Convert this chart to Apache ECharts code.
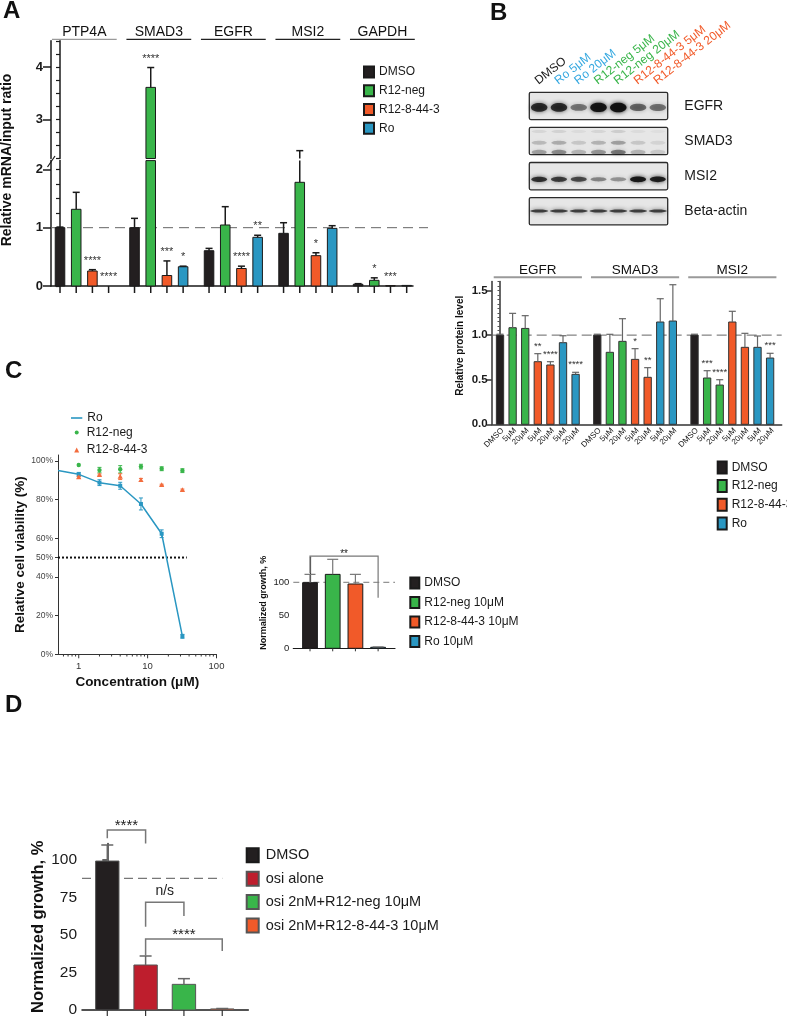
<!DOCTYPE html>
<html>
<head>
<meta charset="utf-8">
<script src="https://cdn.jsdelivr.net/npm/echarts@6.0.0/dist/echarts.min.js"></script>
<style>
html,body{margin:0;padding:0;background:#ffffff;}
#chart{width:787px;height:1018px;}
</style>
</head>
<body>
<div id="chart"></div>
<script>
// ======================= DATA =======================
// Panel A : relative mRNA / input ratio
const aGenes    = ['PTP4A', 'SMAD3', 'EGFR', 'MSI2', 'GAPDH'];
const aDmso     = [1.00, 1.00, 0.605, 0.903, 0.030];
const aDmsoErr  = [1.01, 1.16, 0.645, 1.085, 0.040];
const aNeg      = [1.315, 3.61, 1.046, 1.778, 0.097];
const aNegErr   = [1.606, 3.99, 1.360, 2.400, 0.140];
const aOr       = [0.257, 0.180, 0.300, 0.520, 0.006];
const aOrErr    = [0.280, 0.430, 0.340, 0.570, 0.006];
const aRo       = [0.000, 0.330, 0.835, 0.988, 0.010];
const aRoErr    = [0.000, 0.340, 0.870, 1.034, 0.010];
const aDmsoSig  = ['', '', '', '', ''];
const aNegSig   = ['', '****', '', '', '*'];
const aOrSig    = ['****', '***', '****', '*', '***'];
const aRoSig    = ['****', '*', '**', '', ''];
const aLowLabels = [0, 1, 2];
const aUpLabels  = [3, 4];

// Panel B : western blot (band intensity, 0..1)
const blotLanes     = ['DMSO', 'Ro 5μM', 'Ro 20μM', 'R12-neg 5μM', 'R12-neg 20μM', 'R12-8-44-3 5μM', 'R12-8-44-3 20μM'];
const blotLaneGroup = ['DMSO', 'Ro', 'Ro', 'R12-neg', 'R12-neg', 'R12-8-44-3', 'R12-8-44-3'];
const blotRows      = ['EGFR', 'SMAD3', 'MSI2', 'Beta-actin'];
const bandEGFR  = [0.82, 0.82, 0.48, 0.97, 1.00, 0.55, 0.50];
const bandSMAD3 = [0.35, 0.45, 0.25, 0.40, 0.55, 0.25, 0.15];
const bandMSI2  = [0.80, 0.74, 0.68, 0.42, 0.36, 0.94, 0.90];
const bandActin = [0.82, 0.82, 0.82, 0.82, 0.82, 0.82, 0.82];

// Panel B : relative protein level
const bTargets    = ['EGFR', 'SMAD3', 'MSI2'];
const bLaneLabels = ['DMSO', '5μM', '20μM', '5μM', '20μM', '5μM', '20μM'];
const bDmso   = [1.000, 1.000, 1.000]; const bDmsoErr  = [1.010, 1.010, 1.010]; const bDmsoSig  = ['', '', ''];
const bNeg5   = [1.083, 0.807, 0.519]; const bNeg5Err  = [1.244, 1.009, 0.601]; const bNeg5Sig  = ['', '', '***'];
const bNeg20  = [1.075, 0.930, 0.440]; const bNeg20Err = [1.218, 1.184, 0.500]; const bNeg20Sig = ['', '', '****'];
const bOr5    = [0.702, 0.728, 1.147]; const bOr5Err   = [0.792, 0.848, 1.267]; const bOr5Sig   = ['**', '*', ''];
const bOr20   = [0.665, 0.527, 0.863]; const bOr20Err  = [0.702, 0.635, 1.020]; const bOr20Sig  = ['****', '**', ''];
const bRo5    = [0.915, 1.147, 0.863]; const bRo5Err   = [0.993, 1.408, 0.990]; const bRo5Sig   = ['', '', ''];
const bRo20   = [0.560, 1.158, 0.743]; const bRo20Err  = [0.583, 1.565, 0.796]; const bRo20Sig  = ['****', '', '***'];
const bYLabels = [0, 0.5, 1.0, 1.5];

// Panel C : dose response (relative cell viability, %)
const doseConc  = [1, 2, 4, 8, 16, 32];
const roMean    = [93.0, 88.7, 87.1, 77.7, 62.3, 9.3];
const roSd      = [1.0, 1.5, 1.8, 3.1, 2.0, 1.0];
const roCurveX  = [0.5, 1, 2, 4, 8, 16, 32];
const roCurveY  = [95.0, 93.0, 88.7, 87.1, 77.7, 62.3, 9.3];
const negMean   = [97.8, 95.2, 95.6, 97.0, 95.9, 94.9];
const negSd     = [0.3, 1.4, 1.9, 1.2, 1.0, 1.0];
const orMean    = [91.5, 92.7, 91.8, 90.1, 87.5, 84.9];
const orSd      = [0.5, 0.5, 1.5, 0.8, 0.4, 0.5];
const doseYLabels = [0, 20, 40, 50, 60, 80, 100];
const doseMajor = [1, 10, 100];
const doseMinor = [0.6, 0.7, 0.8, 0.9, 2, 3, 4, 5, 6, 7, 8, 9, 20, 30, 40, 50, 60, 70, 80, 90];
const ic50Line  = [0.5, 50, 37];   // x from, y level, x to

// Panel C : normalized growth
const grNames  = ['DMSO', 'R12-neg 10μM', 'R12-8-44-3 10μM', 'Ro 10μM'];
const grMean   = [99.4, 112.0, 97.4, 1.5];
const grErr    = [112.0, 134.8, 112.0, 2.2];
const grYLabels = [0, 50, 100];
const grBrFrom = [0]; const grBrTo = [3]; const grBrLevel = [139.5]; const grBrLeftEnd = [114]; const grBrRightEnd = [76.5]; const grBrText = ['**'];

// Panel D : normalized growth with osimertinib
const dNames   = ['DMSO', 'osi alone', 'osi 2nM+R12-neg 10μM', 'osi 2nM+R12-8-44-3 10μM'];
const dMean    = [99.3, 30.0, 17.1, 0.7];
const dErr     = [110.0, 36.0, 20.9, 1.0];
const dRefLine = 87.8;
const dYLabels = [0, 25, 50, 75, 100];
const dBrFrom  = [0, 1, 1];
const dBrTo    = [1, 2, 3];
const dBrLevel = [120, 71.8, 47.3];
const dBrLeftEnd  = [114.5, 55.5, 36.2];
const dBrRightEnd = [111, 62.7, 39.3];
const dBrText  = ['****', 'n/s', '****'];

// ======================= STYLE / LAYOUT =======================
const FONT = "'Liberation Sans', Arial, Helvetica, sans-serif";
const COL = { 'DMSO': '#231f20', 'R12-neg': '#39b54a', 'R12-8-44-3': '#f15a29', 'Ro': '#2a97c2', 'osi': '#be1e2d' };
const LANE_TXT = { 'DMSO': '#1a1a1a', 'Ro': '#35a8e0', 'R12-neg': '#39b54a', 'R12-8-44-3': '#f15a29' };
const A_G = 4.6;    // group period (slots) panel A
const B_G = 7.72;   // group period (slots) panel B

function steps(a, b, s) { const r = []; for (let v = a; v <= b + 1e-9; v += s) r.push(Math.round(v * 1000) / 1000); return r; }

const L = (x1, y1, x2, y2, stroke, w, dash) => ({ type: 'line', silent: true, shape: { x1, y1, x2, y2 }, style: { stroke, lineWidth: w, lineDash: dash || null } });
const T = (x, y, text, o) => ({ type: 'text', silent: true, x, y, rotation: o.rot || 0,
  style: { text, fill: o.fill || '#1a1a1a', fontSize: o.fs, fontFamily: FONT, fontWeight: o.fw || 'normal', align: o.align || 'center', verticalAlign: o.va || 'middle' } });

// Generic bar + error bar + significance renderer
function makeBars(name, xi, yi, items, color, o) {
  return {
    type: 'custom', name, xAxisIndex: xi, yAxisIndex: yi, z: 3, silent: true,
    itemStyle: { color, borderColor: o.border, borderWidth: 1 },
    data: items.map(it => [it.x, it.v, it.e]),
    renderItem(params, api) {
      const it = items[params.dataIndex];
      const x = api.value(0), v = api.value(1), e = api.value(2);
      const lo = o.lo, hi = o.hi;
      const clamp = t => Math.max(lo, Math.min(hi, t));
      const bw = api.size([o.bw, 0])[0];
      const base = api.coord([x, lo]);
      const px = base[0], yBase = base[1];
      const kids = [];
      if (v > lo) {
        const yTop = api.coord([x, clamp(v)])[1];
        kids.push({ type: 'rect', silent: true, shape: { x: px - bw / 2, y: yTop, width: bw, height: yBase - yTop }, style: { fill: color, stroke: o.border, lineWidth: 1 } });
      }
      if (e > v) {
        const y1 = api.coord([x, clamp(v)])[1];
        const y2 = api.coord([x, clamp(e)])[1];
        if (y1 - y2 > 0.5) kids.push(L(px, y1, px, y2, o.errColor, o.errW));
        if (e >= lo && e <= hi) kids.push(L(px - o.cap / 2, y2, px + o.cap / 2, y2, o.errColor, o.errW));
      }
      const top = Math.max(v, e);
      if (it.star && top >= lo && top <= hi) {
        const yt = api.coord([x, top])[1] - o.starOff;
        kids.push(T(px, yt + 0.27 * o.starFs, it.star, { fs: o.starFs, fill: o.starColor }));
      }
      if (o.tick) kids.push(L(px, yBase, px, yBase + o.tick, o.tickColor || o.border, o.tickW || 1.5));
      if (it.label) kids.push(T(px + 2.5, yBase + 5, it.label, { fs: o.labelFs, rot: Math.PI / 4, align: 'right', fill: '#222' }));
      return { type: 'group', children: kids };
    }
  };
}

function makeHeaders(xi, yi, groups, o) {
  return {
    type: 'custom', xAxisIndex: xi, yAxisIndex: yi, z: 3, silent: true,
    data: groups.map(g => [g.x0, g.x1]),
    renderItem(params, api) {
      const g = groups[params.dataIndex];
      const p0 = api.coord([api.value(0) - o.pad, o.yTop]);
      const p1 = api.coord([api.value(1) + o.pad, o.yTop]);
      return { type: 'group', children: [
        L(p0[0], p0[1] + o.lineDy, p1[0], p0[1] + o.lineDy, g.lineColor, o.lineW),
        T((p0[0] + p1[0]) / 2, p0[1] + o.textDy, g.name, { fs: o.fs, fill: '#111' })
      ] };
    }
  };
}

function makeHLine(xi, yi, x0, y, x1, o) {
  return {
    type: 'custom', xAxisIndex: xi, yAxisIndex: yi, z: o.z || 1, silent: true,
    data: [[x0, y, x1]],
    renderItem(params, api) {
      const p0 = api.coord([api.value(0), api.value(1)]);
      const p1 = api.coord([api.value(2), api.value(1)]);
      return L(p0[0], p0[1], p1[0] + (o.ext || 0), p0[1], o.color, o.w, o.dash);
    }
  };
}

function makeBrackets(xi, yi, from, to, level, lEnd, rEnd, texts, o) {
  return {
    type: 'custom', xAxisIndex: xi, yAxisIndex: yi, z: 4, silent: true,
    data: from.map((f, i) => [f, level[i], to[i], lEnd[i], rEnd[i]]),
    renderItem(params, api) {
      const t = texts[params.dataIndex];
      const pL = api.coord([api.value(0), api.value(1)]);
      const pR = api.coord([api.value(2), api.value(1)]);
      const yl = api.coord([api.value(0), api.value(3)])[1];
      const yr = api.coord([api.value(2), api.value(4)])[1];
      const isStar = t.indexOf('*') >= 0;
      const ty = pL[1] - (isStar ? o.starOff : o.textOff) + (isStar ? 0.27 * o.fs : 0);
      return { type: 'group', children: [
        { type: 'polyline', silent: true, shape: { points: [[pL[0], yl], [pL[0], pL[1]], [pR[0], pR[1]], [pR[0], yr]] }, style: { stroke: o.color, lineWidth: o.w, fill: null } },
        T((pL[0] + pR[0]) / 2, ty, t, { fs: isStar ? o.fs : o.textFs, fill: '#222' })
      ] };
    }
  };
}

function makePoints(name, xs, means, sds, color, shape) {
  return {
    type: 'custom', name, xAxisIndex: 4, yAxisIndex: 7, z: 4, silent: true,
    itemStyle: { color },
    data: xs.map((x, i) => [x, means[i], sds[i]]),
    renderItem(params, api) {
      const x = api.value(0), m = api.value(1), s = api.value(2);
      const p = api.coord([x, m]), pt = api.coord([x, m + s]), pb = api.coord([x, m - s]);
      const kids = [];
      if (pb[1] - pt[1] > 1.5) {
        kids.push(L(p[0], pt[1], p[0], pb[1], color, 1));
        kids.push(L(p[0] - 2, pt[1], p[0] + 2, pt[1], color, 1));
        kids.push(L(p[0] - 2, pb[1], p[0] + 2, pb[1], color, 1));
      }
      if (shape === 'square') kids.push({ type: 'rect', silent: true, shape: { x: p[0] - 2, y: p[1] - 2, width: 4, height: 4 }, style: { fill: color } });
      else if (shape === 'circle') kids.push({ type: 'circle', silent: true, shape: { cx: p[0], cy: p[1], r: 2.2 }, style: { fill: color } });
      else kids.push({ type: 'polygon', silent: true, shape: { points: [[p[0], p[1] - 2.8], [p[0] + 2.6, p[1] + 2], [p[0] - 2.6, p[1] + 2]] }, style: { fill: color } });
      return { type: 'group', children: kids };
    }
  };
}

const series = [];

// ---------- Panel A ----------
series.push(makeHLine(0, 0, -0.556, 1, 21.79, { color: '#666', w: 1, dash: [10, 6], ext: 15 }));
const A_BAR = { bw: 0.59, border: '#1a1a1a', errColor: '#1a1a1a', errW: 1.5, cap: 7, starOff: 12, starFs: 11, starColor: '#333' };
[['DMSO', aDmso, aDmsoErr, aDmsoSig, 0], ['R12-neg', aNeg, aNegErr, aNegSig, 1],
 ['R12-8-44-3', aOr, aOrErr, aOrSig, 2], ['Ro', aRo, aRoErr, aRoSig, 3]].forEach(([nm, m, e, s, slot]) => {
  const items = m.map((v, g) => ({ x: g * A_G + slot, v, e: e[g], star: s[g] }));
  series.push(makeBars(nm, 0, 0, items, COL[nm], Object.assign({}, A_BAR, { lo: 0, hi: 2.15, tick: 7 })));
  series.push(makeBars(nm, 1, 2, items, COL[nm], Object.assign({}, A_BAR, { lo: 2.25, hi: 4.5, tick: 0 })));
});
series.push(makeHeaders(1, 2, aGenes.map((g, i) => ({ name: g, x0: i * A_G, x1: i * A_G + 3, lineColor: i === 0 ? '#9a9a9a' : '#222' })),
  { pad: 0.5, yTop: 4.5, lineDy: -1.5, textDy: -8.4, lineW: 1.2, fs: 14 }));

// ---------- Panel B blot ----------
series.push({
  type: 'custom', xAxisIndex: 2, yAxisIndex: 4, z: 2, silent: true,
  data: [bandEGFR, bandSMAD3, bandMSI2, bandActin].map((b, r) => [r].concat(b)),
  renderItem(params, api) {
    const r = api.value(0);
    const tl = api.coord([0, r]), br = api.coord([7, r + 0.778]);
    const kids = [{ type: 'rect', silent: true, shape: { x: tl[0], y: tl[1], width: br[0] - tl[0], height: br[1] - tl[1], r: 1.5 }, style: { fill: '#e6e6e6', stroke: '#2b2b2b', lineWidth: 1.3 } }];
    for (let i = 0; i < 7; i++) {
      const a = api.value(i + 1);
      const cx = api.coord([i + 0.5, r])[0];
      const band = (yo, h, w, alpha) => {
        const cy = api.coord([0, r + yo])[1];
        const c = 'rgba(15,15,15,' + alpha.toFixed(3) + ')';
        kids.push({ type: 'ellipse', silent: true, shape: { cx, cy, rx: w / 2, ry: h / 2 }, style: { fill: c, shadowBlur: 4, shadowColor: c } });
      };
      if (r === 0) band(0.43, 4.5 + 5 * a, 16.5, 0.97 * a);
      else if (r === 1) { band(0.12, 3, 15, 0.2 * a); band(0.44, 4, 15, 0.55 * a); band(0.71, 5, 15, 0.85 * a); }
      else if (r === 2) band(0.48, 3 + 3 * a, 16, 0.97 * a);
      else band(0.38, 3, 18, 0.88 * a);
    }
    const lab = api.coord([7, r + 0.39]);
    kids.push(T(lab[0] + 16.6, lab[1], blotRows[r], { fs: 14, align: 'left', fill: '#1a1a1a' }));
    return { type: 'group', children: kids };
  }
});
series.push({
  type: 'custom', xAxisIndex: 2, yAxisIndex: 4, z: 2, silent: true,
  data: blotLanes.map((l, i) => [i + 0.5, 0]),
  renderItem(params, api) {
    const p = api.coord([api.value(0), api.value(1)]);
    const i = params.dataIndex;
    return T(p[0] + 1, p[1] - 5.5, blotLanes[i], { fs: 12, rot: 38 * Math.PI / 180, align: 'left', va: 'bottom', fill: LANE_TXT[blotLaneGroup[i]] });
  }
});

// ---------- Panel B quantification ----------
series.push(makeHLine(3, 5, -0.66, 1, 22.36, { color: '#666', w: 1, dash: [10, 5] }));
const B_BAR = { bw: 0.58, border: '#333', errColor: '#666', errW: 1.2, cap: 7, starOff: 10, starFs: 9.5, starColor: '#333', lo: 0, hi: 1.6, tick: 0, labelFs: 8 };
const bDefs = [
  ['DMSO', [[bDmso, bDmsoErr, bDmsoSig, 0]]],
  ['R12-neg', [[bNeg5, bNeg5Err, bNeg5Sig, 1], [bNeg20, bNeg20Err, bNeg20Sig, 2]]],
  ['R12-8-44-3', [[bOr5, bOr5Err, bOr5Sig, 3], [bOr20, bOr20Err, bOr20Sig, 4]]],
  ['Ro', [[bRo5, bRo5Err, bRo5Sig, 5], [bRo20, bRo20Err, bRo20Sig, 6]]]
];
bDefs.forEach(([nm, sets]) => {
  const items = [];
  sets.forEach(([m, e, s, slot]) => m.forEach((v, g) => items.push({ x: g * B_G + slot, v, e: e[g], star: s[g], label: bLaneLabels[slot] })));
  series.push(makeBars(nm, 3, 5, items, COL[nm], B_BAR));
});
series.push(makeHeaders(3, 5, bTargets.map((g, i) => ({ name: g, x0: i * B_G, x1: i * B_G + 6, lineColor: '#9a9a9a' })),
  { pad: 0.5, yTop: 1.6, lineDy: -4.3, textDy: -11.5, lineW: 2, fs: 13.5 }));

// ---------- Panel C dose response ----------
series.push({
  type: 'custom', xAxisIndex: 4, yAxisIndex: 7, z: 2, silent: true,
  data: doseMajor.map(v => [v, 1]).concat(doseMinor.map(v => [v, 0])),
  renderItem(params, api) {
    const p = api.coord([api.value(0), 0]);
    return L(p[0], p[1], p[0], p[1] + (api.value(1) ? 4 : 2.2), '#333', 1);
  }
});
series.push(makeHLine(4, 7, ic50Line[0], ic50Line[1], ic50Line[2], { color: '#111', w: 2, dash: [2, 2], z: 2 }));
series.push({ type: 'line', name: 'C_Ro', xAxisIndex: 4, yAxisIndex: 7, z: 3, silent: true, symbol: 'none',
  lineStyle: { color: COL['Ro'], width: 1.5 }, itemStyle: { color: COL['Ro'] },
  data: roCurveX.map((x, i) => [x, roCurveY[i]]) });
series.push(makePoints('C_RoPts', doseConc, roMean, roSd, COL['Ro'], 'square'));
series.push(makePoints('C_Neg', doseConc, negMean, negSd, COL['R12-neg'], 'circle'));
series.push(makePoints('C_Or', doseConc, orMean, orSd, '#f36c3d', 'triangle'));

// ---------- Panel C growth ----------
series.push(makeHLine(5, 8, -0.736, 100, 3.744, { color: '#777', w: 1, dash: [6, 4] }));
const GR_BAR = { bw: 0.65, border: '#1a1a1a', errColor: '#777', errW: 1.2, cap: 11, starOff: 10, starFs: 10, starColor: '#333', lo: 0, hi: 160, tick: 3, tickColor: '#333', tickW: 1 };
const grCols = [COL['DMSO'], COL['R12-neg'], COL['R12-8-44-3'], COL['Ro']];
grNames.forEach((nm, i) => series.push(makeBars(nm, 5, 8, [{ x: i, v: grMean[i], e: grErr[i] }], grCols[i], GR_BAR)));
series.push(makeBrackets(5, 8, grBrFrom, grBrTo, grBrLevel, grBrLeftEnd, grBrRightEnd, grBrText, { color: '#777', w: 1.2, fs: 10, starOff: 5, textOff: 8, textFs: 10 }));

// ---------- Panel D ----------
series.push(makeHLine(6, 9, -0.66, dRefLine, 3, { color: '#777', w: 1.2, dash: [9, 5] }));
const D_BAR = { bw: 0.61, border: '#555', errColor: '#666', errW: 1.5, cap: 12, starOff: 10, starFs: 14, starColor: '#333', lo: 0, hi: 200, tick: 6, tickColor: '#333', tickW: 1.2 };
const dCols = [COL['DMSO'], COL['osi'], COL['R12-neg'], COL['R12-8-44-3']];
dNames.forEach((nm, i) => series.push(makeBars(nm, 6, 9, [{ x: i, v: dMean[i], e: dErr[i] }], dCols[i], D_BAR)));
series.push(makeBrackets(6, 9, dBrFrom, dBrTo, dBrLevel, dBrLeftEnd, dBrRightEnd, dBrText, { color: '#777', w: 1.5, fs: 15, starOff: 8, textOff: 11, textFs: 14 }));

// ======================= AXES =======================
const axisTxt = (fs, fw, col) => ({ fontSize: fs, fontWeight: fw || 'normal', color: col || '#1a1a1a', fontFamily: FONT });
const valueX = (gridIndex, min, max, show, lineW) => ({
  type: 'value', gridIndex, min, max, show: show !== false,
  axisLine: { show: true, onZero: false, lineStyle: { color: '#1a1a1a', width: lineW || 1.5 } },
  axisTick: { show: false }, axisLabel: { show: false }, splitLine: { show: false }
});

const xAxis = [
  valueX(0, -0.556, 21.79),
  valueX(1, -0.556, 21.79, false),
  valueX(2, 0, 7, false),
  Object.assign(valueX(3, -0.66, 22.36), { axisLine: { show: true, onZero: false, lineStyle: { color: '#333', width: 1.5 } } }),
  { type: 'log', logBase: 10, gridIndex: 4, min: 0.5, max: 100,
    axisLine: { show: true, onZero: false, lineStyle: { color: '#333', width: 1 } }, axisTick: { show: false }, splitLine: { show: false },
    axisLabel: { margin: 7, fontSize: 9.5, color: '#333', fontFamily: FONT,
      formatter: v => { const l = Math.log10(v); return Math.abs(l - Math.round(l)) < 1e-6 ? String(Math.round(v)) : ''; } },
    name: 'Concentration (μM)', nameLocation: 'middle', nameGap: 21, nameTextStyle: axisTxt(13.5, 'bold', '#111') },
  valueX(5, -0.736, 3.744, true, 1.2),
  valueX(6, -0.66, 3.68, true, 1.5)
];

const yAxis = [
  // 0,1 : panel A lower (minor / major)
  { type: 'value', gridIndex: 0, position: 'left', min: 0, max: 2.15, axisLine: { show: true, lineStyle: { color: '#1a1a1a', width: 1.5 } },
    axisTick: { show: true, customValues: steps(0, 2, 0.25), length: 4, lineStyle: { color: '#1a1a1a', width: 1.2 } }, axisLabel: { show: false }, splitLine: { show: false } },
  { type: 'value', gridIndex: 0, position: 'left', min: 0, max: 2.15, axisLine: { show: true, lineStyle: { color: '#1a1a1a', width: 1.5 } },
    axisTick: { show: true, customValues: aLowLabels, length: 8, lineStyle: { color: '#1a1a1a', width: 1.5 } },
    axisLabel: { customValues: aLowLabels, margin: 8, fontSize: 13, fontWeight: 'bold', color: '#1a1a1a', fontFamily: FONT }, splitLine: { show: false } },
  // 2,3 : panel A upper
  { type: 'value', gridIndex: 1, position: 'left', min: 2.25, max: 4.5, axisLine: { show: true, lineStyle: { color: '#1a1a1a', width: 1.5 } },
    axisTick: { show: true, customValues: steps(2.25, 4.5, 0.25), length: 4, lineStyle: { color: '#1a1a1a', width: 1.2 } }, axisLabel: { show: false }, splitLine: { show: false } },
  { type: 'value', gridIndex: 1, position: 'left', min: 2.25, max: 4.5, axisLine: { show: true, lineStyle: { color: '#1a1a1a', width: 1.5 } },
    axisTick: { show: true, customValues: aUpLabels, length: 8, lineStyle: { color: '#1a1a1a', width: 1.5 } },
    axisLabel: { customValues: aUpLabels, margin: 8, fontSize: 13, fontWeight: 'bold', color: '#1a1a1a', fontFamily: FONT }, splitLine: { show: false } },
  // 4 : blot
  { type: 'value', gridIndex: 2, min: 0, max: 4, inverse: true, show: false },
  // 5,6 : panel B quant
  { type: 'value', gridIndex: 3, position: 'left', min: 0, max: 1.6, axisLine: { show: true, lineStyle: { color: '#333', width: 1.5 } },
    axisTick: { show: true, customValues: steps(0, 1.6, 0.05), length: 2.5, lineStyle: { color: '#555', width: 1 } }, axisLabel: { show: false }, splitLine: { show: false } },
  { type: 'value', gridIndex: 3, position: 'left', min: 0, max: 1.6, axisLine: { show: true, lineStyle: { color: '#333', width: 1.5 } },
    axisTick: { show: true, customValues: bYLabels, length: 5, lineStyle: { color: '#333', width: 1.5 } },
    axisLabel: { customValues: bYLabels, margin: 4, fontSize: 11.5, fontWeight: 'bold', color: '#1a1a1a', fontFamily: FONT, formatter: v => v.toFixed(1) }, splitLine: { show: false } },
  // 7 : dose response
  { type: 'value', gridIndex: 4, position: 'left', min: 0, max: 103, axisLine: { show: true, lineStyle: { color: '#333', width: 1 } },
    axisTick: { show: true, customValues: doseYLabels, length: 3, lineStyle: { color: '#333' } },
    axisLabel: { customValues: doseYLabels, margin: 5, fontSize: 8.5, color: '#444', fontFamily: FONT, formatter: v => v + '%' }, splitLine: { show: false },
    name: 'Relative cell viability (%)', nameLocation: 'middle', nameGap: 31, nameTextStyle: axisTxt(13.5, 'bold', '#111') },
  // 8 : growth
  { type: 'value', gridIndex: 5, position: 'left', min: 0, max: 138, axisLine: { show: true, lineStyle: { color: '#333', width: 1.2 } },
    axisTick: { show: true, customValues: grYLabels, length: 3, lineStyle: { color: '#333' } },
    axisLabel: { customValues: grYLabels, margin: 4, fontSize: 9.5, color: '#222', fontFamily: FONT }, splitLine: { show: false },
    name: 'Normalized growth, %', nameLocation: 'middle', nameGap: 25.5, nameTextStyle: axisTxt(9, 'bold', '#111') },
  // 9 : panel D
  { type: 'value', gridIndex: 6, position: 'left', min: 0, max: 111, axisLine: { show: true, lineStyle: { color: '#333', width: 1.5 } },
    axisTick: { show: true, customValues: dYLabels, length: 5, lineStyle: { color: '#333', width: 1.5 } },
    axisLabel: { customValues: dYLabels, margin: 5, fontSize: 15.5, color: '#1a1a1a', fontFamily: FONT }, splitLine: { show: false },
    name: 'Normalized growth, %', nameLocation: 'middle', nameGap: 35.5, nameTextStyle: axisTxt(16.5, 'bold', '#111') }
];

const grid = [
  { left: 51, top: 160.6, width: 362, height: 125.4 },
  { left: 51, top: 40.85, width: 362, height: 117.65 },
  { left: 529.3, top: 92.3, width: 138.4, height: 140.4 },
  { left: 491.7, top: 281.6, width: 290, height: 142.7 },
  { left: 58, top: 455, width: 158.5, height: 199.3 },
  { left: 293.3, top: 557.2, width: 101.7, height: 91.1 },
  { left: 82, top: 843.5, width: 166.3, height: 166.5 }
];

// ======================= LEGENDS =======================
const legTxt = fs => ({ fontSize: fs, color: '#1a1a1a', fontFamily: FONT });
const legNames = { C_Ro: 'Ro', C_Neg: 'R12-neg', C_Or: 'R12-8-44-3' };
const legFmt = n => legNames[n] || n;
const legend = [
  { orient: 'vertical', left: 358, top: 60.4, itemWidth: 10, itemHeight: 11, itemGap: 5.8, icon: 'rect', selectedMode: false,
    data: ['DMSO', 'R12-neg', 'R12-8-44-3', 'Ro'], textStyle: legTxt(12) },
  { orient: 'vertical', left: 711.7, top: 455.4, itemWidth: 9, itemHeight: 12, itemGap: 4.7, icon: 'rect', selectedMode: false,
    data: ['DMSO', 'R12-neg', 'R12-8-44-3', 'Ro'], textStyle: legTxt(12) },
  { orient: 'vertical', left: 66, top: 407, itemWidth: 11.3, itemHeight: 1.6, selectedMode: false, formatter: legFmt,
    data: [{ name: 'C_Ro', icon: 'rect' }], textStyle: legTxt(12) },
  { orient: 'vertical', left: 69.7, top: 421.6, itemWidth: 4, itemHeight: 4, selectedMode: false, formatter: legFmt,
    data: [{ name: 'C_Neg', icon: 'circle' }], textStyle: Object.assign(legTxt(12), { padding: [0, 0, 0, 3] }) },
  { orient: 'vertical', left: 69.2, top: 439, itemWidth: 5, itemHeight: 5, selectedMode: false, formatter: legFmt,
    data: [{ name: 'C_Or', icon: 'triangle' }], textStyle: Object.assign(legTxt(12), { padding: [0, 0, 0, 2.5] }) },
  { orient: 'vertical', left: 404.3, top: 571.6, itemWidth: 9, itemHeight: 11, itemGap: 6.5, icon: 'rect', selectedMode: false,
    data: grNames, textStyle: legTxt(12) },
  { orient: 'vertical', left: 240.7, top: 842.3, itemWidth: 12, itemHeight: 14, itemGap: 7.4, icon: 'rect', selectedMode: false,
    data: dNames, textStyle: Object.assign(legTxt(14.5), { padding: [0, 0, 0, 2] }) }
];

// ======================= GRAPHICS (panel letters, titles) =======================
const letter = (t, x, y) => ({ type: 'text', x, y, style: { text: t, fontSize: 24, fontWeight: 'bold', fontFamily: FONT, fill: '#111', align: 'left', verticalAlign: 'top' } });
const graphic = [
  letter('A', 3, -1), letter('B', 490, 1), letter('C', 5, 359.5), letter('D', 5, 693),
  { type: 'text', x: 7.5, y: 160, rotation: Math.PI / 2, style: { text: 'Relative mRNA/input ratio', fontSize: 14, fontWeight: 'bold', fontFamily: FONT, fill: '#111', align: 'center', verticalAlign: 'middle' } },
  { type: 'text', x: 460.7, y: 345.8, rotation: Math.PI / 2, style: { text: 'Relative protein level', fontSize: 10, fontWeight: 'bold', fontFamily: FONT, fill: '#111', align: 'center', verticalAlign: 'middle' } },
  { type: 'line', shape: { x1: 47.5, y1: 167, x2: 55, y2: 156 }, style: { stroke: '#1a1a1a', lineWidth: 1.2 } }
];

const chart = echarts.init(document.getElementById('chart'), null, { renderer: 'canvas' });
chart.setOption({
  animation: false,
  backgroundColor: '#ffffff',
  textStyle: { fontFamily: FONT },
  grid, xAxis, yAxis, legend, graphic, series
});
</script>
</body>
</html>
